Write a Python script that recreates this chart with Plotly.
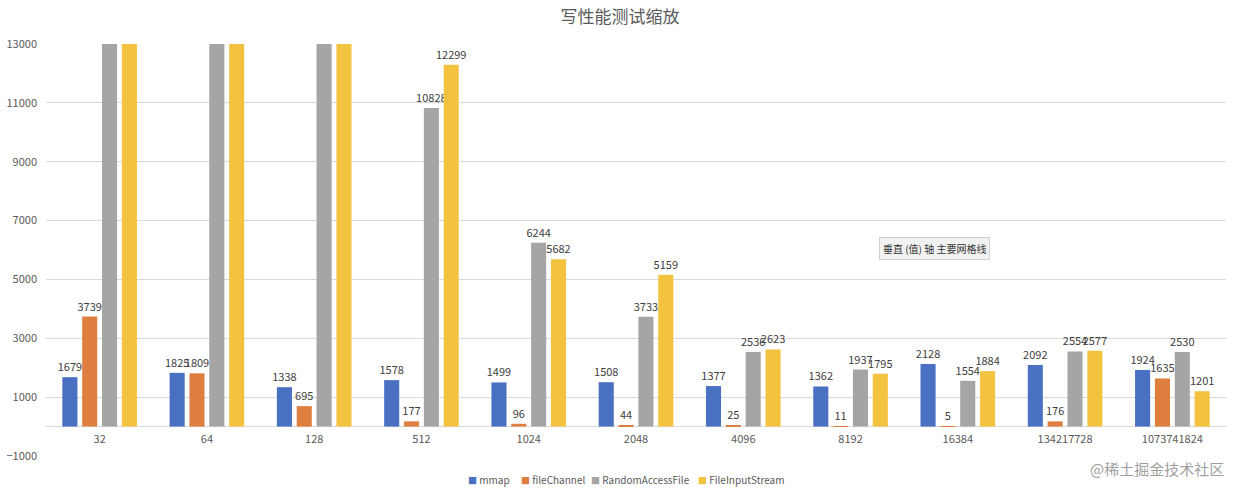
import plotly.graph_objects as go

categories = ["32", "64", "128", "512", "1024", "2048", "4096", "8192", "16384", "134217728", "1073741824"]
mmap = [1679, 1825, 1338, 1578, 1499, 1508, 1377, 1362, 2128, 2092, 1924]
file_channel = [3739, 1809, 695, 177, 96, 44, 25, 11, 5, 176, 1635]
random_access = [26000, 21000, 17000, 10828, 6244, 3733, 2536, 1937, 1554, 2554, 2530]
file_input = [28000, 23000, 18000, 12299, 5682, 5159, 2623, 1795, 1884, 2577, 1201]

series_names = ["mmap", "fileChannel", "RandomAccessFile", "FileInputStream"]
series_values = [mmap, file_channel, random_access, file_input]
colors = ["#4A70C1", "#DF7F3F", "#A5A5A5", "#F3C340"]

Y_MIN, Y_MAX = -1000, 13000

fig = go.Figure()
for name, vals, col in zip(series_names, series_values, colors):
    labels = [str(v) if v <= Y_MAX else "" for v in vals]
    fig.add_trace(go.Bar(
        x=categories, y=vals, name=name, marker=dict(color=col, line=dict(width=0)),
        text=labels, textposition="outside", cliponaxis=True,
        textfont=dict(size=11, color="#404040"),
        hoverinfo="skip", showlegend=False,
    ))

font_family = "Noto Sans CJK SC, Noto Sans, sans-serif"
PLOT_L, PLOT_W, PLOT_B, PLOT_H = 46, 1180, 455.7, 411.4
fig.update_layout(
    width=1240, height=495,
    margin=dict(l=46, r=14, t=44, b=39, autoexpand=False),
    paper_bgcolor="white", plot_bgcolor="white",
    font=dict(family=font_family, size=11, color="#595959"),
    title=dict(text="写性能测试缩放", x=0.5, xanchor="center", y=1 - 17 / 495, yanchor="middle",
               font=dict(size=17, color="#595959")),
    barmode="group", bargap=0.26, bargroupgap=0.24,
    showlegend=False,
)
fig.update_traces(constraintext="none", selector=dict(type="bar"))
fig.update_xaxes(anchor="free", position=(0 - Y_MIN) / (Y_MAX - Y_MIN), showgrid=False,
                 showline=False, ticks="", tickfont=dict(size=11, color="#595959"),
                 ticklabelstandoff=4)
fig.update_yaxes(range=[Y_MIN, Y_MAX], tick0=Y_MIN, dtick=2000, tickformat="d", showgrid=True,
                 gridcolor="#D9D9D9", gridwidth=1, zeroline=True, zerolinecolor="#D9D9D9",
                 zerolinewidth=1, showline=False, ticks="", tickfont=dict(size=11, color="#595959"),
                 ticklabelstandoff=8)

# legend row (small square swatches close to their labels, as in the reference)
legend_x_px = [466, 519, 589, 696]
for name, col, px in zip(series_names, colors, legend_x_px):
    fig.add_annotation(
        text=f"<span style='color:{col};font-size:9px'>■</span> {name}",
        xref="paper", yref="paper", x=(px - PLOT_L) / PLOT_W, y=(PLOT_B - 479) / PLOT_H,
        xanchor="left", yanchor="middle", showarrow=False,
        font=dict(size=10, color="#595959"),
    )

fig.add_annotation(text="垂直 (值) 轴 主要网格线", xref="paper", yref="paper",
                   x=(934 - PLOT_L) / PLOT_W, y=(PLOT_B - 249) / PLOT_H, xanchor="center", yanchor="middle",
                   showarrow=False, font=dict(size=10, color="#333333"), bgcolor="#F2F2F2",
                   bordercolor="#D0D0D0", borderwidth=1, borderpad=3)
fig.add_annotation(text="@稀土掘金技术社区", xref="paper", yref="paper",
                   x=1.0, y=(PLOT_B - 468) / PLOT_H, xanchor="right", yanchor="middle",
                   showarrow=False, font=dict(size=15, color="#A0A0A0"))

fig.write_html("out.html")
